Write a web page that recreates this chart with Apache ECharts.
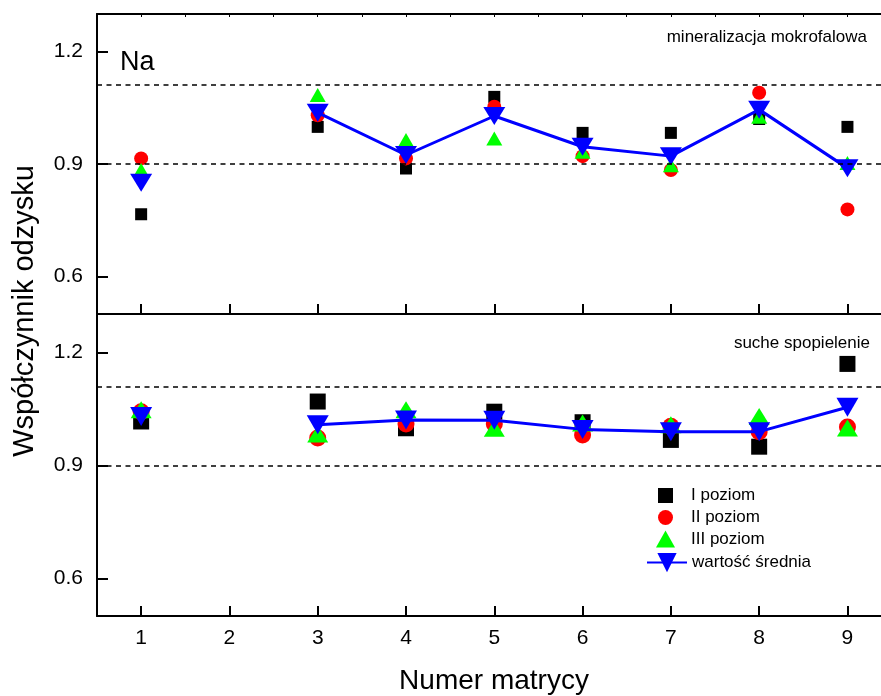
<!DOCTYPE html>
<html>
<head>
<meta charset="utf-8">
<title>Na - współczynnik odzysku</title>
<script src="https://cdn.jsdelivr.net/npm/echarts@6/dist/echarts.min.js"></script>
<style>
  html, body { margin: 0; padding: 0; background: #fff; }
  #chart { width: 881px; height: 696px; }
</style>
</head>
<body>
<div id="chart"></div>
<script>
// numer matrycy (2 - brak danych)
var matryce = [1, 2, 3, 4, 5, 6, 7, 8, 9];
var xTicks = [1, 2, 3, 4, 5, 6, 7, 8, 9];
var yTicks = [0.6, 0.9, 1.2];
var granice = [0.9, 1.11];   // linie przerywane

// mineralizacja mokrofalowa
var mokI   = [0.766, null, 0.999, 0.888, 1.079, 0.983, 0.983, 1.02, 0.999];
var mokII  = [0.915, null, 1.030, 0.915, 1.053, 0.921, 0.884, 1.090, 0.779];
var mokIII = [0.884, null, 1.084, 0.964, 0.968, 0.933, 0.897, 1.026, 0.903];
var mokSr  = [0.850, null, 1.037, 0.924, 1.028, 0.946, 0.921, 1.045, 0.889];

// suche spopielenie
var sucI   = [1.017, null, 1.070, 0.999, 1.043, 1.015, 0.968, 0.950, 1.170];
var sucII  = [1.043, null, 0.973, 1.010, 1.010, 0.981, 1.004, 0.990, 1.002];
var sucIII = [1.048, null, 0.984, 1.048, 0.999, 1.013, 1.008, 1.030, 1.000];
var sucSr  = [1.030, null, 1.008, 1.021, 1.020, 0.996, 0.990, 0.990, 1.055];

var font = 'Liberation Sans, Arial, sans-serif';

// pary [x, y] dla osi wartosci
function pary(arr) {
	var out = [];
	for (var i = 0; i < matryce.length; i++) {
		out.push([matryce[i], arr[i]]);
	}
	return out;
}

function osX(grid, pokazEtykiety) {
	return {
		type: 'value', gridIndex: grid, min: 0.5, max: 9.38,
		axisLine: {show: true, onZero: false, lineStyle: {color: '#000', width: 2}},
		axisTick: {show: true, inside: true, length: 10, customValues: xTicks, lineStyle: {color: '#000', width: 2}},
		axisLabel: {show: pokazEtykiety, customValues: xTicks, margin: 12, color: '#000', fontSize: 21, fontFamily: font},
		splitLine: {show: false}
	};
}

function osY(grid) {
	return {
		type: 'value', gridIndex: grid, min: 0.5, max: 1.3,
		axisLine: {show: true, onZero: false, lineStyle: {color: '#000', width: 2}},
		axisTick: {show: true, inside: true, length: 11, customValues: yTicks, lineStyle: {color: '#000', width: 2}},
		axisLabel: {show: true, customValues: yTicks, margin: 14, color: '#000', fontSize: 21, fontFamily: font,
			formatter: function (v) { return v.toFixed(1); }},
		splitLine: {show: false}
	};
}

function liniePrzerywane() {
	var d = [];
	for (var i = 0; i < granice.length; i++) d.push({yAxis: granice[i]});
	return {
		silent: true, symbol: 'none', label: {show: false},
		lineStyle: {color: '#000', type: [5, 4.5], width: 1.5},
		data: d
	};
}

// jeden panel = 4 serie
function serie(idx, I, II, III, sr, duze) {
	var sq = duze ? 16 : 12, ci = duze ? 17 : 14;
	var tr = duze ? [21, 17] : [16, 14];
	var dn = duze ? [22, 19] : [22, 18];
	return [
		{name: 'I poziom', type: 'scatter', xAxisIndex: idx, yAxisIndex: idx, symbol: 'rect', symbolSize: sq,
			itemStyle: {color: '#000', opacity: 1}, data: pary(I), markLine: liniePrzerywane()},
		{name: 'II poziom', type: 'scatter', xAxisIndex: idx, yAxisIndex: idx, symbol: 'circle', symbolSize: ci,
			itemStyle: {color: '#ff0000', opacity: 1}, data: pary(II)},
		{name: 'III poziom', type: 'scatter', xAxisIndex: idx, yAxisIndex: idx, symbol: 'triangle', symbolSize: tr,
			itemStyle: {color: '#00ff00', opacity: 1}, data: pary(III)},
		{name: 'wartość średnia', type: 'line', xAxisIndex: idx, yAxisIndex: idx, symbol: 'triangle', symbolRotate: 180,
			symbolSize: dn, showAllSymbol: true, connectNulls: false,
			itemStyle: {color: '#0000ff', opacity: 1}, lineStyle: {color: '#0000ff', width: 3}, data: pary(sr)}
	];
}

function legenda(nazwa, left, top, w, h, pad) {
	return {
		data: [nazwa], orient: 'vertical', left: left, top: top, padding: 0,
		itemWidth: w, itemHeight: h, selectedMode: false,
		textStyle: {color: '#000', fontSize: 17, fontFamily: font, padding: [0, 0, 0, pad]}
	};
}

var xTop = osX(0, false);
var xBorder = {
	type: 'value', gridIndex: 0, position: 'top', min: 0.5, max: 9.38, interval: 0.5,
	axisLine: {show: true, onZero: false, lineStyle: {color: '#000', width: 2}},
	axisTick: {show: true, inside: true, length: 3, lineStyle: {color: '#000', width: 1}},
	axisLabel: {show: false}, splitLine: {show: false}
};

var option = {
	backgroundColor: '#fff',
	animation: false,
	grid: [
		{left: 97, top: 14, right: 0, height: 300},
		{left: 97, top: 315, right: 0, height: 301}
	],
	xAxis: [xTop, osX(1, true), xBorder],
	yAxis: [osY(0), osY(1)],
	legend: [
		legenda('I poziom', 658, 487, 15, 15, 13),
		legenda('II poziom', 658, 509, 15, 15, 13),
		legenda('III poziom', 656, 530.5, 19, 17, 11),
		legenda('wartość średnia', 646, 553, 40, 24, 0)
	],
	series: serie(0, mokI, mokII, mokIII, mokSr, false).concat(serie(1, sucI, sucII, sucIII, sucSr, true)),
	graphic: [
		{type: 'text', left: 120, top: 49, style: {text: 'Na', fontSize: 27, fontFamily: font, fill: '#000'}},
		{type: 'text', x: 867, y: 37.5, style: {text: 'mineralizacja mokrofalowa', fontSize: 17, fontFamily: font,
			fill: '#000', align: 'right', verticalAlign: 'middle'}},
		{type: 'text', x: 870, y: 343, style: {text: 'suche spopielenie', fontSize: 17, fontFamily: font,
			fill: '#000', align: 'right', verticalAlign: 'middle'}},
		{type: 'text', x: 25, y: 311, rotation: Math.PI / 2, style: {text: 'Współczynnik odzysku', fontSize: 29,
			fontFamily: font, fill: '#000', align: 'center', verticalAlign: 'middle'}},
		{type: 'text', x: 494, y: 681, style: {text: 'Numer matrycy', fontSize: 28, fontFamily: font,
			fill: '#000', align: 'center', verticalAlign: 'middle'}}
	]
};

var myChart = echarts.init(document.getElementById('chart'));
myChart.setOption(option);
</script>
</body>
</html>
